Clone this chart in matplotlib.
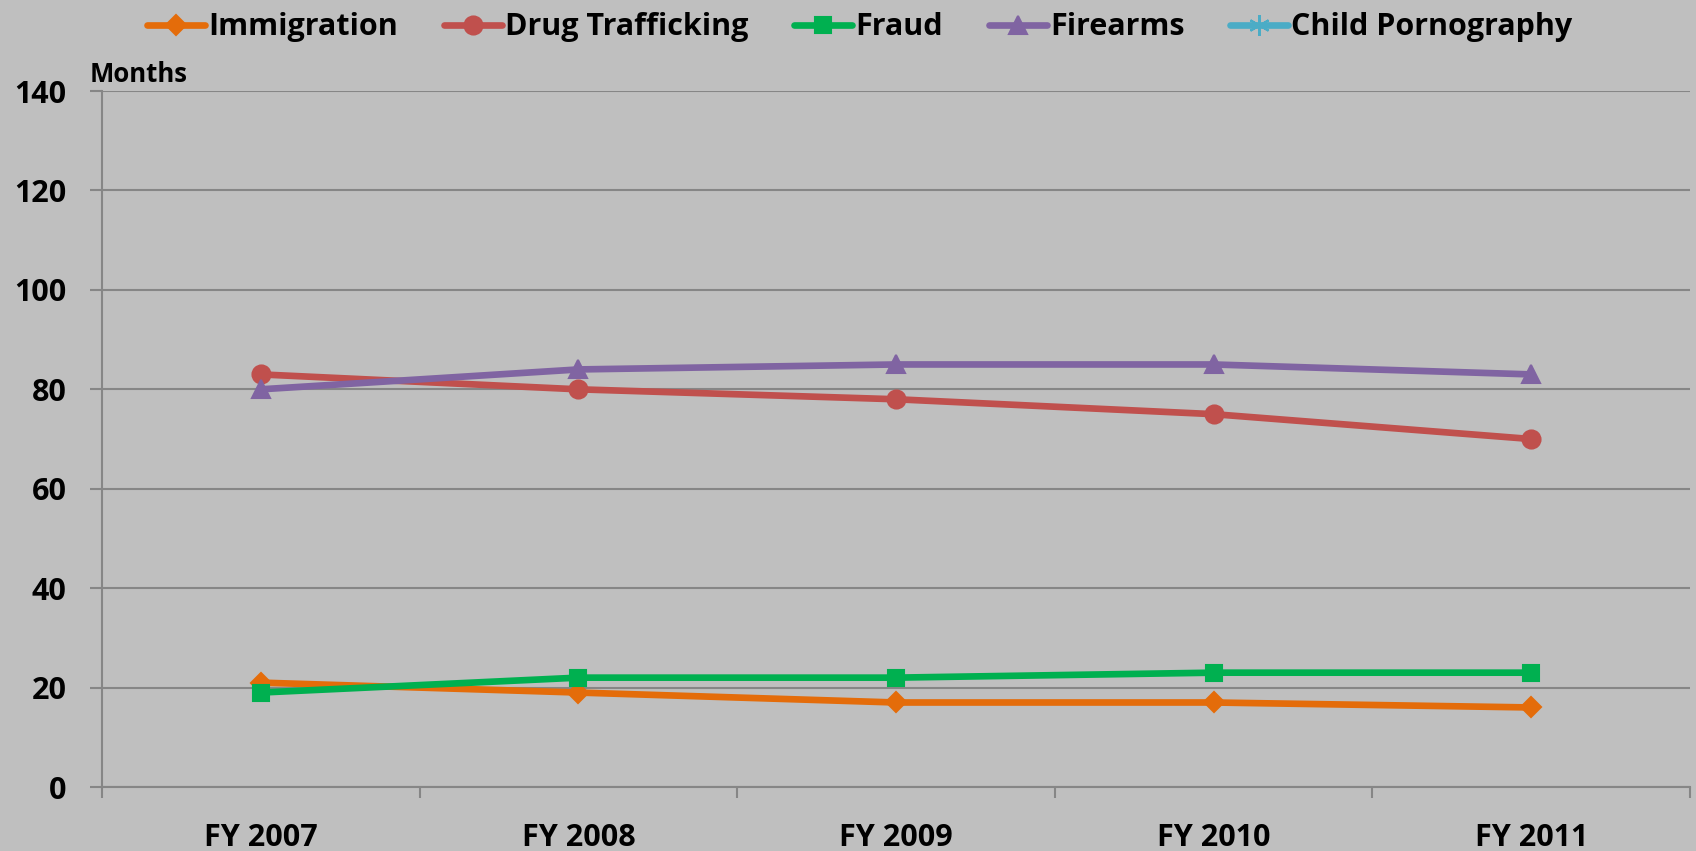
import numpy as np
import matplotlib
matplotlib.use("Agg")
import matplotlib.pyplot as plt
from matplotlib.ticker import FixedLocator

categories = ["FY 2007", "FY 2008", "FY 2009", "FY 2010", "FY 2011"]
immigration = [21, 19, 17, 17, 16]
drug_trafficking = [83, 80, 78, 75, 70]
fraud = [19, 22, 22, 23, 23]
firearms = [80, 84, 85, 85, 83]
child_pornography = [np.nan, np.nan, np.nan, np.nan, np.nan]
y_ticks = [0, 20, 40, 60, 80, 100, 120, 140]

plt.rcParams['font.family'] = ['Open Sans', 'DejaVu Sans']
plt.rcParams['font.weight'] = 'bold'

bg = '#BFBFBF'
fig = plt.figure(figsize=(16.96, 8.51), dpi=100, facecolor=bg)
ax = fig.add_axes([0.0601, 0.0752, 0.9364, 0.8178], facecolor=bg)

x = np.arange(len(categories))
series = [
    ("Immigration", immigration, '#E46C0A', 'D', 10),
    ("Drug Trafficking", drug_trafficking, '#C0504D', 'o', 13),
    ("Fraud", fraud, '#00B050', 's', 11.5),
    ("Firearms", firearms, '#8064A2', '^', 13),
    ("Child Pornography", child_pornography, '#4BACC6', (6, 2, 0), 15),
]
for name, vals, col, mk, ms in series:
    ax.plot(x, vals, color=col, lw=4.8, marker=mk, markersize=ms,
            markeredgecolor=col, markerfacecolor=col, markeredgewidth=1.5,
            label=name, solid_capstyle='round')

ax.set_xlim(-0.5, len(categories) - 0.5)
ax.set_ylim(0, 140)
ax.set_yticks(y_ticks)
ax.yaxis.grid(True, color='#868686', lw=1.5)
ax.set_axisbelow(True)
ax.tick_params(axis='y', length=8.5, width=1.5, color='#868686', labelsize=22, pad=17)
for lab in ax.get_yticklabels():
    lab.set_fontweight('bold')

ax.xaxis.set_major_locator(FixedLocator(np.arange(-0.5, len(categories), 1.0)))
ax.xaxis.set_minor_locator(FixedLocator(x))
ax.set_xticklabels([])
ax.set_xticks(x, minor=True)
ax.set_xticklabels(categories, minor=True, fontsize=22, fontweight='bold')
ax.tick_params(axis='x', which='major', length=8, width=1.5, color='#868686')
ax.tick_params(axis='x', which='minor', length=0, pad=26)

for s in ['top', 'right']:
    ax.spines[s].set_visible(False)
for s in ['left', 'bottom']:
    ax.spines[s].set_color('#868686')
    ax.spines[s].set_linewidth(1.5)

fig.text(0.053, 0.897, "Months", fontsize=18.5, fontweight='bold', ha='left', va='bottom')

leg = fig.legend(loc='center', bbox_to_anchor=(0.507, 0.968), ncol=5, frameon=False,
                 handlelength=1.9, columnspacing=1.5, handletextpad=0.1,
                 prop={'weight': 'bold', 'size': 22})

fig.savefig("out.png", dpi=100, facecolor=bg)
